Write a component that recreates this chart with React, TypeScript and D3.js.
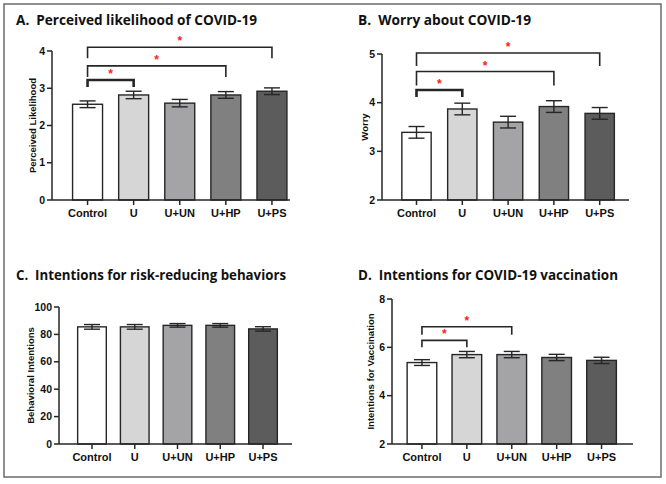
import React from "react";
import * as d3 from "d3";

const categories = ["Control", "U", "U+UN", "U+HP", "U+PS"];
const barFills = ["#ffffff", "#d6d6d6", "#a4a4a7", "#808080", "#5c5c5c"];

const likelihoodMeans = [2.57, 2.82, 2.6, 2.82, 2.92];
const likelihoodErr = [0.09, 0.1, 0.1, 0.09, 0.09];
const likelihoodTicks = [0, 1, 2, 3, 4];
// [from index, to index, bracket value]
const likelihoodBrackets = [[0, 1, 3.22], [0, 3, 3.6], [0, 4, 4.1]];

const worryMeans = [3.39, 3.87, 3.6, 3.92, 3.78];
const worryErr = [0.12, 0.12, 0.12, 0.12, 0.12];
const worryTicks = [2, 3, 4, 5];
const worryBrackets = [[0, 1, 4.26], [0, 3, 4.64], [0, 4, 5.02]];

const behaviorMeans = [85.5, 85.5, 86.6, 86.6, 84.0];
const behaviorErr = [1.7, 1.7, 1.3, 1.3, 1.6];
const behaviorTicks = [0, 20, 40, 60, 80, 100];
const behaviorBrackets: number[][] = [];

const vaccMeans = [5.37, 5.7, 5.7, 5.58, 5.46];
const vaccErr = [0.12, 0.13, 0.13, 0.13, 0.13];
const vaccTicks = [2, 4, 6, 8];
const vaccBrackets = [[0, 1, 6.29], [0, 2, 6.85]];

type PanelCfg = {
  title: string;
  ylabel: string;
  means: number[];
  errs: number[];
  ticks: number[];
  brackets: number[][];
  domain: [number, number];
  yRange: [number, number];
  axisX: number;
  axisEnd: number;
  band: [number, number];
  pad: number;
  titleX: number;
  titleY: number;
  titleLen: number;
  ylabelX: number;
  drops: number[];
  widths: number[];
};

const panels: PanelCfg[] = [
  {
    title: "A.  Perceived likelihood of COVID-19",
    ylabel: "Perceived Likelihood",
    means: likelihoodMeans, errs: likelihoodErr, ticks: likelihoodTicks, brackets: likelihoodBrackets,
    domain: [0, 4], yRange: [200, 51], axisX: 52, axisEnd: 290, band: [64.5, 295], pad: 0.35,
    titleX: 16, titleY: 25, titleLen: 241, ylabelX: 33, drops: [7, 11, 11], widths: [2.6, 1.6, 1.6],
  },
  {
    title: "B.  Worry about COVID-19",
    ylabel: "Worry",
    means: worryMeans, errs: worryErr, ticks: worryTicks, brackets: worryBrackets,
    domain: [2, 5], yRange: [200, 54], axisX: 382, axisEnd: 629, band: [393.6, 622.6], pad: 0.36,
    titleX: 358, titleY: 25, titleLen: 173, ylabelX: 365, drops: [7, 14, 13], widths: [2.6, 1.6, 1.6],
  },
  {
    title: "C.  Intentions for risk-reducing behaviors",
    ylabel: "Behavioral Intentions",
    means: behaviorMeans, errs: behaviorErr, ticks: behaviorTicks, brackets: behaviorBrackets,
    domain: [0, 100], yRange: [444, 307], axisX: 59, axisEnd: 292, band: [70.6, 284.4], pad: 0.33,
    titleX: 16, titleY: 280, titleLen: 270, ylabelX: 31, drops: [], widths: [],
  },
  {
    title: "D.  Intentions for COVID-19 vaccination",
    ylabel: "Intentions for Vaccination",
    means: vaccMeans, errs: vaccErr, ticks: vaccTicks, brackets: vaccBrackets,
    domain: [2, 8], yRange: [444, 299], axisX: 392, axisEnd: 633, band: [399.5, 624], pad: 0.34,
    titleX: 358, titleY: 280, titleLen: 260, ylabelX: 371, drops: [7, 8], widths: [1.6, 1.6],
  },
];

const INK = "#262626";
const AXIS_FONT = "'Liberation Sans', Arial, sans-serif";

function Panel({ cfg }: { cfg: PanelCfg }) {
  const y = d3.scaleLinear().domain(cfg.domain).range(cfg.yRange);
  const x = d3
    .scaleBand<string>()
    .domain(categories)
    .range(cfg.band)
    .paddingInner(cfg.pad)
    .paddingOuter(cfg.pad / 2);
  const bw = x.bandwidth();
  const cx = (c: string) => (x(c) as number) + bw / 2;
  const base = cfg.yRange[0];
  const top = cfg.yRange[1];
  const capW = 16;
  return (
    <g>
      <text
        x={cfg.titleX}
        y={cfg.titleY}
        fontFamily="'Open Sans', sans-serif"
        fontWeight={700}
        fontSize={15}
        fill="#111"
        textLength={cfg.titleLen}
        lengthAdjust="spacingAndGlyphs"
        style={{ whiteSpace: "pre" }}
      >
        {cfg.title}
      </text>
      {/* bars */}
      {categories.map((c, i) => (
        <rect
          key={c}
          x={x(c)}
          y={y(cfg.means[i])}
          width={bw}
          height={base - y(cfg.means[i])}
          fill={barFills[i]}
          stroke={INK}
          strokeWidth={1.4}
        />
      ))}
      {/* error bars */}
      {categories.map((c, i) => {
        const m = cfg.means[i];
        const e = cfg.errs[i];
        const xc = cx(c);
        return (
          <g key={"e" + c} stroke={INK} strokeWidth={1.4}>
            <line x1={xc} x2={xc} y1={y(m - e)} y2={y(m + e)} />
            <line x1={xc - capW / 2} x2={xc + capW / 2} y1={y(m + e)} y2={y(m + e)} />
            <line x1={xc - capW / 2} x2={xc + capW / 2} y1={y(m - e)} y2={y(m - e)} />
          </g>
        );
      })}
      {/* y axis */}
      <line x1={cfg.axisX} x2={cfg.axisX} y1={top} y2={base} stroke={INK} strokeWidth={1.5} />
      {cfg.ticks.map((t) => (
        <g key={"t" + t}>
          <line x1={cfg.axisX - 5} x2={cfg.axisX} y1={y(t)} y2={y(t)} stroke={INK} strokeWidth={1.5} />
          <text
            x={cfg.axisX - 7}
            y={y(t)}
            dy="0.35em"
            textAnchor="end"
            fontFamily={AXIS_FONT}
            fontWeight={700}
            fontSize={10.5}
            fill="#111"
          >
            {t}
          </text>
        </g>
      ))}
      {/* x axis */}
      <line x1={cfg.axisX} x2={cfg.axisEnd} y1={base} y2={base} stroke={INK} strokeWidth={1.5} />
      {categories.map((c) => (
        <g key={"x" + c}>
          <line x1={cx(c)} x2={cx(c)} y1={base} y2={base + 5} stroke={INK} strokeWidth={1.5} />
          <text
            x={cx(c)}
            y={base + 17}
            textAnchor="middle"
            fontFamily={AXIS_FONT}
            fontWeight={700}
            fontSize={11}
            fill="#111"
          >
            {c}
          </text>
        </g>
      ))}
      {/* y label */}
      <text
        transform={`translate(${cfg.ylabelX},${(top + base) / 2}) rotate(-90)`}
        dy="0.35em"
        textAnchor="middle"
        fontFamily={AXIS_FONT}
        fontWeight={700}
        fontSize={9.5}
        fill="#111"
      >
        {cfg.ylabel}
      </text>
      {/* significance brackets */}
      {cfg.brackets.map((b, k) => {
        const x1 = cx(categories[b[0]]);
        const x2 = cx(categories[b[1]]);
        const yb = y(b[2]);
        const d = cfg.drops[k];
        return (
          <g key={"b" + k}>
            <path
              d={`M${x1},${yb + d}V${yb}H${x2}V${yb + d}`}
              fill="none"
              stroke={INK}
              strokeWidth={cfg.widths[k]}
            />
            <text
              x={(x1 + x2) / 2}
              y={yb - 2}
              textAnchor="middle"
              fontFamily={AXIS_FONT}
              fontWeight={700}
              fontSize={12}
              fill="#ff1a1a"
            >
              *
            </text>
          </g>
        );
      })}
    </g>
  );
}

export default function App() {
  return (
    <svg
      width={666}
      height={484}
      style={{ position: "absolute", left: 0, top: 0, background: "#fff" }}
    >
      <rect x={0} y={0} width={666} height={484} fill="#fff" />
      <rect x={4} y={4} width={657} height={473} fill="none" stroke="#6b6b6b" strokeWidth={1.5} />
      {panels.map((p, i) => (
        <Panel key={i} cfg={p} />
      ))}
    </svg>
  );
}
